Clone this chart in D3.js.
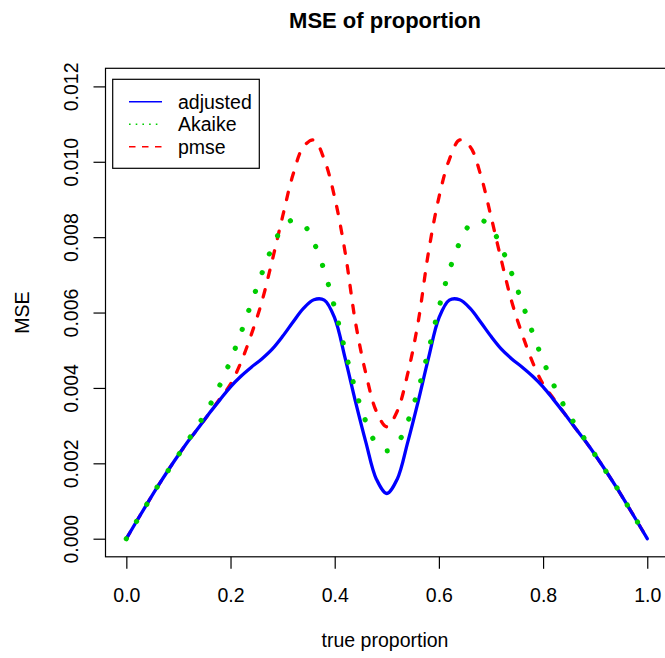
<!DOCTYPE html>
<html>
<head>
<meta charset="utf-8">
<script src="https://cdn.jsdelivr.net/npm/d3@7"></script>
<style>
  body { margin: 0; background: #fff; }
  #chart { width: 665px; height: 658px; }
  text { font-family: "Liberation Sans", Arial, sans-serif; }
</style>
</head>
<body>
<div id="chart"></div>
<script>
// true proportion grid
var proportion = d3.range(0, 51).map(function(i) { return i / 50; });

var adjusted = [0, 0.00047, 0.00093, 0.00138, 0.00181, 0.00222, 0.00261, 0.00297, 0.00334, 0.00369,
    0.00403, 0.00431, 0.00455, 0.00477, 0.00503, 0.00537, 0.00575, 0.00611, 0.00634, 0.00633,
    0.00585, 0.00479, 0.00363, 0.00255, 0.00158, 0.00120,
    0.00158, 0.00255, 0.00363, 0.00479, 0.00585, 0.00633, 0.00634, 0.00611, 0.00575, 0.00537,
    0.00503, 0.00477, 0.00455, 0.00431, 0.00403, 0.00369, 0.00334, 0.00297, 0.00261, 0.00222,
    0.00181, 0.00138, 0.00093, 0.00047, 0];

var akaike = [0, 0.00047, 0.00093, 0.00139, 0.00180, 0.00222, 0.00264, 0.00306, 0.00353, 0.00409,
    0.00473, 0.00546, 0.00625, 0.00703, 0.00773, 0.00825, 0.00846, 0.00834, 0.00786, 0.00711,
    0.00612, 0.00499, 0.00394, 0.00310, 0.00252, 0.00233,
    0.00252, 0.00310, 0.00394, 0.00499, 0.00612, 0.00711, 0.00786, 0.00834, 0.00846, 0.00825,
    0.00773, 0.00703, 0.00625, 0.00546, 0.00473, 0.00409, 0.00353, 0.00306, 0.00264, 0.00222,
    0.00180, 0.00139, 0.00093, 0.00047, 0];

var pmse = [0, 0.00047, 0.00093, 0.00138, 0.00181, 0.00222, 0.00261, 0.00297, 0.00334, 0.00372,
    0.00410, 0.00468, 0.00542, 0.00628, 0.00738, 0.00855, 0.00966, 0.01040, 0.01058, 0.01006,
    0.00905, 0.00760, 0.00573, 0.00437, 0.00338, 0.00297,
    0.00338, 0.00437, 0.00573, 0.00760, 0.00905, 0.01006, 0.01058, 0.01040, 0.00966, 0.00855,
    0.00738, 0.00628, 0.00542, 0.00468, 0.00410, 0.00372, 0.00334, 0.00297, 0.00261, 0.00222,
    0.00181, 0.00138, 0.00093, 0.00047, 0];

var xTicks = [0, 0.2, 0.4, 0.6, 0.8, 1.0];
var yTicks = [0, 0.002, 0.004, 0.006, 0.008, 0.010, 0.012];
var legendLabels = ["adjusted", "Akaike", "pmse"];

var width = 665, height = 658;
var plotLeft = 105.5, plotRight = 668.1, plotTop = 68.3, plotBottom = 556.8;

var svg = d3.select("#chart")
    .append("svg")
    .attr("width", width)
    .attr("height", height);

var x = d3.scaleLinear().domain([-0.04, 1.04]).range([plotLeft, plotRight]);
var y = d3.scaleLinear().domain([-0.00048, 0.01248]).range([plotBottom, plotTop]);

// series (legend order)
var series = [
    { name: "adjusted", values: adjusted, color: "#0000ff", width: 3.3, dash: null },
    { name: "Akaike", values: akaike, color: "#00cd00", width: 5.2, dash: "0.01 20" },
    { name: "pmse", values: pmse, color: "#ff0000", width: 3.3, dash: "7.5 12.5" }
];

var line = d3.line()
    .x(function(d) { return x(d[0]); })
    .y(function(d) { return y(d[1]); })
    .curve(d3.curveCatmullRom.alpha(0.5));

svg.append("clipPath").attr("id", "clip")
    .append("rect")
    .attr("x", plotLeft).attr("y", plotTop)
    .attr("width", plotRight - plotLeft).attr("height", plotBottom - plotTop);

var plot = svg.append("g").attr("clip-path", "url(#clip)");

// pmse underneath, then adjusted, dots on top
[series[2], series[0], series[1]].forEach(function(s) {
    plot.append("path")
        .datum(proportion.map(function(p, i) { return [p, s.values[i]]; }))
        .attr("d", line)
        .attr("fill", "none")
        .attr("stroke", s.color)
        .attr("stroke-width", s.width)
        .attr("stroke-linecap", "round")
        .attr("stroke-linejoin", "round")
        .attr("stroke-dasharray", s.dash);
});

// box
svg.append("rect")
    .attr("x", plotLeft).attr("y", plotTop)
    .attr("width", plotRight - plotLeft).attr("height", plotBottom - plotTop)
    .attr("fill", "none")
    .attr("stroke", "#000")
    .attr("stroke-width", 1.2);

// x axis
var xAxis = svg.append("g")
    .attr("transform", "translate(0," + plotBottom + ")")
    .call(d3.axisBottom(x).tickValues(xTicks).tickSize(12).tickPadding(19)
        .tickFormat(d3.format(".1f")));
xAxis.select(".domain").remove();
xAxis.selectAll("line").attr("stroke", "#000").attr("stroke-width", 1.2);
xAxis.selectAll("text")
    .attr("fill", "#000")
    .style("font-size", "19.5px")
    .style("font-family", "Liberation Sans, Arial, sans-serif");

// y axis
var yAxis = svg.append("g")
    .attr("transform", "translate(" + plotLeft + ",0)")
    .call(d3.axisLeft(y).tickValues(yTicks).tickSize(12)
        .tickFormat(d3.format(".3f")));
yAxis.select(".domain").remove();
yAxis.selectAll("line").attr("stroke", "#000").attr("stroke-width", 1.2);
yAxis.selectAll("text")
    .attr("x", 0)
    .attr("dy", 0)
    .attr("transform", "translate(-27.5,0) rotate(-90)")
    .attr("text-anchor", "middle")
    .attr("fill", "#000")
    .style("font-size", "19.5px")
    .style("font-family", "Liberation Sans, Arial, sans-serif");

// title and axis labels
svg.append("text")
    .attr("x", 385)
    .attr("y", 28)
    .attr("text-anchor", "middle")
    .style("font-size", "22px")
    .style("font-weight", "bold")
    .text("MSE of proportion");

svg.append("text")
    .attr("x", 385)
    .attr("y", 647)
    .attr("text-anchor", "middle")
    .style("font-size", "19.5px")
    .text("true proportion");

svg.append("text")
    .attr("transform", "translate(29," + ((plotTop + plotBottom) / 2) + ") rotate(-90)")
    .attr("text-anchor", "middle")
    .style("font-size", "19.5px")
    .text("MSE");

// legend
var legend = svg.append("g");
legend.append("rect")
    .attr("x", 112.7).attr("y", 79.3)
    .attr("width", 146.6).attr("height", 89)
    .attr("fill", "#fff")
    .attr("stroke", "#000")
    .attr("stroke-width", 1.2);

var legendDash = [null, "1.6 5.1", "6.5 6.5"];
legendLabels.forEach(function(lab, i) {
    var ly = 101.7 + i * 22.5;
    legend.append("line")
        .attr("x1", 129).attr("x2", 162)
        .attr("y1", ly).attr("y2", ly)
        .attr("stroke", series[i].color)
        .attr("stroke-width", 1.6)
        .attr("stroke-dasharray", legendDash[i]);
    legend.append("text")
        .attr("x", 178)
        .attr("y", ly)
        .attr("dy", "0.35em")
        .style("font-size", "19.5px")
        .text(lab);
});
</script>
</body>
</html>
